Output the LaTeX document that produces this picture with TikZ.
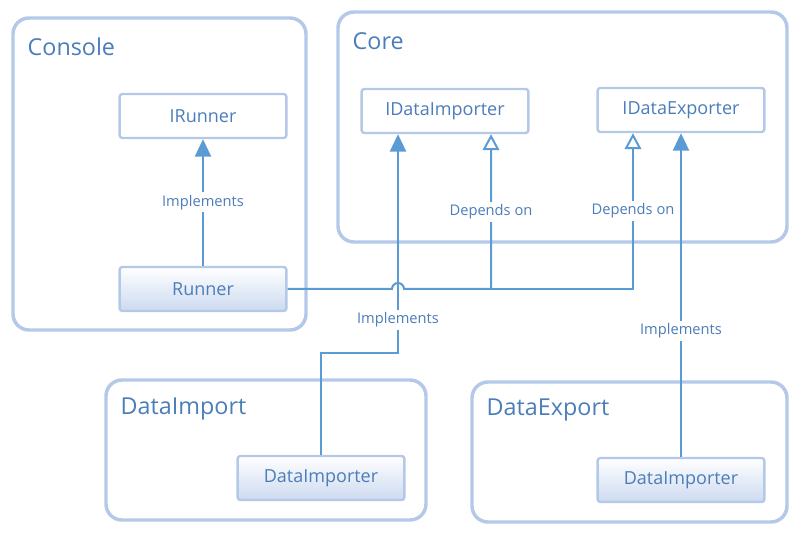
\documentclass[tikz,border=0pt]{standalone}
\usepackage{fontspec}
\setmainfont{Open Sans}
\usepackage{xcolor}
\usepackage{tikz}
\usetikzlibrary{arrows.meta,positioning}

\definecolor{groupline}{RGB}{180,200,232}
\definecolor{linkblue}{RGB}{91,155,213}
\definecolor{textblue}{RGB}{75,125,185}
\definecolor{boxshade}{RGB}{204,218,240}

\begin{document}
\begin{tikzpicture}[
    x=0.75pt, y=-0.75pt,
    group/.style={draw=groupline, line width=2.6pt, rounded corners=12pt},
    title/.style={anchor=west, text=textblue, font=\fontsize{17.5}{20}\selectfont},
    iface/.style={draw=groupline, line width=1.8pt, fill=white, rounded corners=2pt, minimum width=125pt, minimum height=33pt, text=textblue, font=\fontsize{13.5}{16}\selectfont},
    impl/.style={iface, top color=white, bottom color=boxshade},
    link/.style={draw=linkblue, line width=1.5pt},
    realize/.style={link, -{Triangle[length=13pt, width=12pt]}},
    depend/.style={link, -{Triangle[open, length=12pt, width=12.5pt, fill=white]}},
    tag/.style={fill=white, text=textblue, inner sep=2pt, font=\fontsize{11}{13}\selectfont}
]
    \useasboundingbox (0,0) rectangle (801,534);

    % packages
    \draw[group] (13,18) rectangle (306,330);
    \draw[group] (338,12) rectangle (787,242);
    \draw[group] (106,380) rectangle (426,520);
    \draw[group] (472,382) rectangle (787,522);
    \node[title] (console) at (23,47) {Console};
    \node[title] (core) at (348,41) {Core};
    \node[title] (dataimport) at (116,409) {DataImport};
    \node[title] (dataexport) at (482,410) {DataExport};

    % classes
    \node[iface] (irunner) at (203,116) {IRunner};
    \node[impl] (runner) at (203,289) {Runner};
    \node[iface] (iimporter) at (445,111) {IDataImporter};
    \node[iface] (iexporter) at (681,110) {IDataExporter};
    \node[impl] (importer) at (321,478) {DataImporter};
    \node[impl] (exporter) at (681,480) {DataImporter};

    % links
    \coordinate (hop) at (398,289);
    \coordinate (bend) at (398,353);
    \coordinate (dep1) at (491,289);
    \coordinate (dep2) at (633,289);
    \draw[realize] (runner) -- node[tag] {Implements} (irunner);
    \draw[depend] (runner.east) -- ([xshift=-4.5pt]hop) arc[start angle=180, end angle=360, radius=6] -- (dep1) -- (dep1 |- iimporter.south) node[tag, pos=0.5] {Depends on};
    \draw[depend] (dep1) -- (dep2) -- (dep2 |- iexporter.south) node[tag, pos=0.5] {Depends on};
    \draw[realize] (importer.north) |- (bend) -- node[tag, pos=0.15] {Implements} (bend |- iimporter.south);
    \draw[realize] (exporter.north) -- node[tag, pos=0.39] {Implements} (exporter.north |- iexporter.south);
\end{tikzpicture}
\end{document}
